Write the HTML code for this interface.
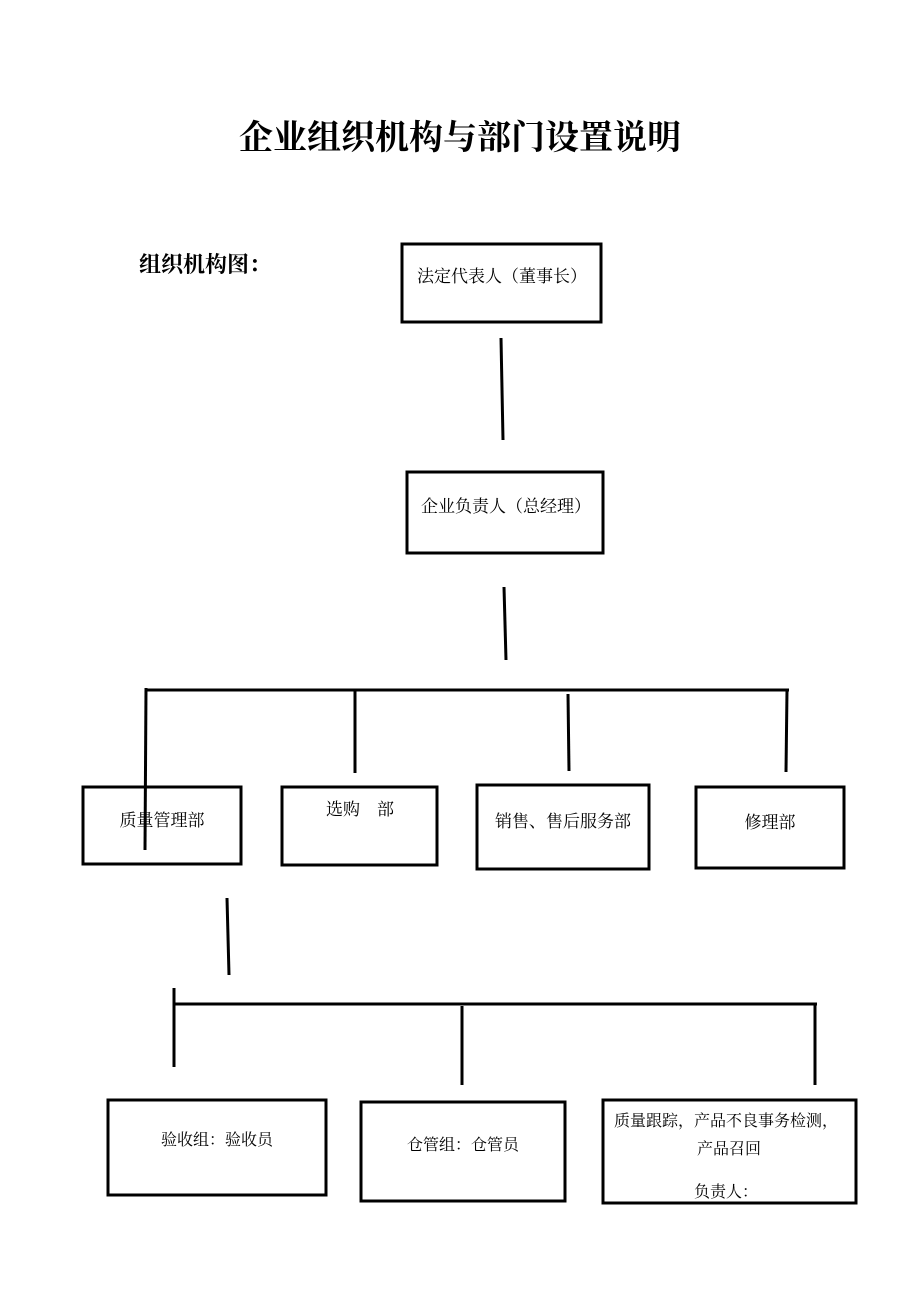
<!DOCTYPE html>
<html><head><meta charset="utf-8"><style>
body{margin:0;background:#fff}
svg text{font-family:"Liberation Serif","Noto Serif CJK SC","Noto Sans CJK SC",serif;fill:#000}
</style></head><body>
<svg width="920" height="1302" viewBox="0 0 920 1302" xmlns="http://www.w3.org/2000/svg">
<text x="460" y="149" font-size="34" font-weight="bold" text-anchor="middle">企业组织机构与部门设置说明</text>
<text x="139" y="272" font-size="22" font-weight="bold">组织机构图：</text>
<g fill="none" stroke="#000" stroke-width="3">
<rect x="402" y="244" width="199" height="78"/>
<rect x="407" y="472" width="196" height="81"/>
<rect x="83" y="787" width="158" height="77"/>
<rect x="282" y="787" width="155" height="78"/>
<rect x="477" y="785" width="172" height="84"/>
<rect x="696" y="787" width="148" height="81"/>
<rect x="108" y="1100" width="218" height="95"/>
<rect x="361" y="1102" width="204" height="99"/>
<rect x="603" y="1100" width="253" height="103"/>
<line x1="501" y1="338" x2="503" y2="440"/>
<line x1="504" y1="587" x2="506" y2="660"/>
<line x1="145" y1="690" x2="789" y2="690"/>
<line x1="146" y1="688" x2="145" y2="850"/>
<line x1="355" y1="690" x2="355" y2="773"/>
<line x1="568" y1="694" x2="569" y2="771"/>
<line x1="787" y1="690" x2="786" y2="772"/>
<line x1="227" y1="898" x2="229" y2="975"/>
<line x1="174" y1="1004" x2="817" y2="1004"/>
<line x1="174" y1="988" x2="174" y2="1067"/>
<line x1="462" y1="1006" x2="462" y2="1085"/>
<line x1="815" y1="1004" x2="815" y2="1085"/>
</g>
<g font-size="17" text-anchor="middle">
<text x="502" y="282">法定代表人（董事长）</text>
<text x="506" y="512">企业负责人（总经理）</text>
<text x="162" y="826">质量管理部</text>
<text x="360" y="815" xml:space="preserve">选购    部</text>
<text x="563" y="827">销售、售后服务部</text>
<text x="770" y="828">修理部</text>
<text x="217" y="1145" font-size="16">验收组：验收员</text>
<text x="463" y="1150" font-size="16">仓管组：仓管员</text>
<text x="726" y="1126" font-size="16">质量跟踪，产品不良事务检测，</text>
<text x="729" y="1154" font-size="16">产品召回</text>
<text x="726" y="1197" font-size="16">负责人：</text>
</g>
</svg>
</body></html>
